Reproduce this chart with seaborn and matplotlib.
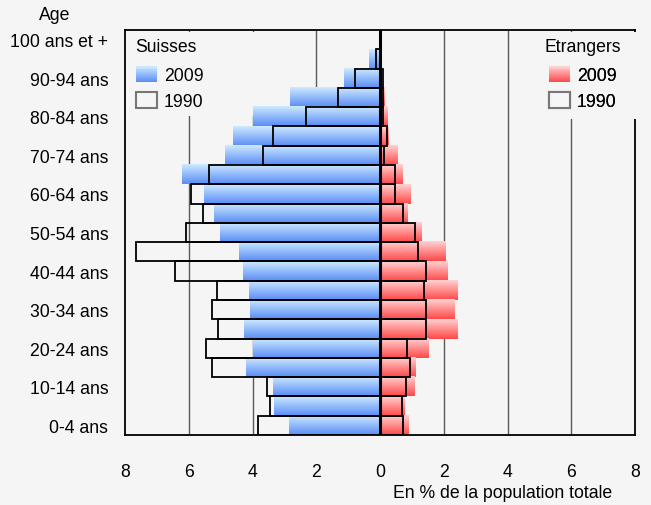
import numpy as np
import matplotlib
matplotlib.use("Agg")
import matplotlib.pyplot as plt
from matplotlib.colors import LinearSegmentedColormap
from matplotlib.patches import Patch, Rectangle
from matplotlib.legend_handler import HandlerBase
import seaborn as sns

# age groups, top of the pyramid first
ages = ["100 ans et +", "95-99 ans", "90-94 ans", "85-89 ans", "80-84 ans",
        "75-79 ans", "70-74 ans", "65-69 ans", "60-64 ans", "55-59 ans",
        "50-54 ans", "45-49 ans", "40-44 ans", "35-39 ans", "30-34 ans",
        "25-29 ans", "20-24 ans", "15-19 ans", "10-14 ans", "5-9 ans", "0-4 ans"]

# en % de la population totale
suisses_2009 = [0.02, 0.34, 1.13, 2.82, 4.0, 4.61, 4.86, 6.21, 5.52, 5.21, 5.02,
                4.42, 4.30, 4.11, 4.08, 4.27, 3.97, 4.20, 3.36, 3.33, 2.85]
suisses_1990 = [0.01, 0.13, 0.78, 1.33, 2.33, 3.35, 3.67, 5.36, 5.92, 5.56, 6.08,
                7.65, 6.43, 5.12, 5.28, 5.09, 5.45, 5.28, 3.53, 3.46, 3.83]
etrangers_2009 = [0.01, 0.03, 0.06, 0.14, 0.25, 0.28, 0.56, 0.72, 0.97, 0.85, 1.29,
                  2.04, 2.13, 2.42, 2.35, 2.42, 1.51, 1.10, 1.07, 0.78, 0.88]
etrangers_1990 = [0.0, 0.02, 0.08, 0.10, 0.08, 0.21, 0.14, 0.48, 0.48, 0.72, 1.11,
                  1.20, 1.43, 1.39, 1.45, 1.45, 0.84, 0.94, 0.80, 0.69, 0.73]

xticks = [-8, -6, -4, -2, 0, 2, 4, 6, 8]
xticklabels = ["8", "6", "4", "2", "0", "2", "4", "6", "8"]
ytick_shown = ages[::2]

BG = "#f5f5f5"
blue_cmap = LinearSegmentedColormap.from_list("blue", ["#cdeaff", "#5a8df6"])
red_cmap = LinearSegmentedColormap.from_list("red", ["#ffd2d2", "#ff4848"])

sns.set_style("white")
plt.rcParams["font.family"] = ["Liberation Sans", "DejaVu Sans"]
for k in ["text.color", "axes.labelcolor", "xtick.color", "ytick.color"]:
    plt.rcParams[k] = "black"
FS = 12.7

fig = plt.figure(figsize=(6.51, 5.06), dpi=100, facecolor=BG)
ax = fig.add_axes([125 / 651, 1 - 436 / 506, 510 / 651, 405 / 506])
ax.set_facecolor(BG)


def draw(vals, sign):
    n0 = len(ax.patches)
    sns.barplot(x=[sign * v for v in vals], y=ages, order=ages, orient="h",
                width=1.0, errorbar=None, color="grey", ax=ax)
    return ax.patches[n0:]


def gradient_fill(patches, cmap):
    grad = np.linspace(0, 1, 64).reshape(-1, 1)
    for p in patches:
        x0, w = p.get_x(), p.get_width()
        y0, h = p.get_y(), p.get_height()
        ax.imshow(grad, extent=[x0, x0 + w, y0 + h, y0], aspect="auto",
                  cmap=cmap, interpolation="bilinear", zorder=1.2)
        p.set_visible(False)


def outline(patches):
    for p in patches:
        p.set_facecolor("none")
        p.set_edgecolor("black")
        p.set_linewidth(1.3)
        p.set_zorder(2)


gradient_fill(draw(suisses_2009, -1), blue_cmap)
gradient_fill(draw(etrangers_2009, 1), red_cmap)
outline(draw(suisses_1990, -1))
outline(draw(etrangers_1990, 1))

for v in [-6, -4, -2, 2, 4, 6]:
    ax.axvline(v, color="#5a5a5a", lw=1.0, zorder=0.5)
ax.axvline(0, color="black", lw=2.2, zorder=3)

# the legend areas hide the grid
ax.add_patch(Rectangle((128 / 651, 1 - 117 / 506), 162 / 651, 84 / 506,
                       transform=fig.transFigure, facecolor=BG, edgecolor="none",
                       zorder=0.8, clip_on=False))
ax.add_patch(Rectangle((525 / 651, 1 - 120 / 506), 126 / 651, 87 / 506,
                       transform=fig.transFigure, facecolor=BG, edgecolor="none",
                       zorder=2.7, clip_on=False))

ax.set_xlim(-8, 8)
ax.set_ylim(20.5, -0.5)
ax.set_xticks(xticks)
ax.set_xticklabels(xticklabels, fontsize=FS)
ax.set_yticks(range(len(ages)))
ax.set_yticklabels([a if a in ytick_shown else "" for a in ages], fontsize=FS)
ax.tick_params(axis="x", direction="out", length=5, width=1, color="black", pad=15)
ax.tick_params(axis="y", length=0, pad=12)
ax.set_xlabel("")
ax.set_ylabel("")
for s in ax.spines.values():
    s.set_color("black")
    s.set_linewidth(1.3)
    s.set_visible(True)


class GradientHandler(HandlerBase):
    def __init__(self, cmap):
        super().__init__()
        self.cmap = cmap

    def create_artists(self, legend, orig_handle, xdescent, ydescent, width,
                       height, fontsize, trans):
        n = 16
        arts = []
        for i in range(n):
            r = Rectangle((-xdescent, -ydescent + height * i / n), width,
                          height / n * 1.1, facecolor=self.cmap(1 - (i + 0.5) / n),
                          edgecolor="none", transform=trans)
            arts.append(r)
        return arts


def make_legend(title, cmap, xpix, title_x):
    h09 = Patch(facecolor="white")
    h90 = Patch(facecolor=BG, edgecolor="#777777", linewidth=1.5)
    leg = ax.legend(handles=[h09, h90], labels=["2009", "1990"],
                    loc="upper left", bbox_to_anchor=(xpix / 651, 1 - 64 / 506),
                    bbox_transform=fig.transFigure, frameon=False,
                    handler_map={h09: GradientHandler(cmap)},
                    fontsize=FS, borderaxespad=0, borderpad=0.2,
                    handlelength=1.2, handleheight=1.0, handletextpad=0.4,
                    labelspacing=0.42)
    leg.set_zorder(5)
    fig.text(title_x / 651, 1 - 48 / 506, title, fontsize=FS, ha="left", va="center")
    return leg


ax.add_artist(make_legend("Suisses", blue_cmap, 132, 135))
ax.add_artist(make_legend("Etrangers", red_cmap, 545, 545))

fig.text(55 / 651, 1 - 15 / 506, "Age", fontsize=FS, ha="center", va="center")
fig.text(503 / 651, 1 - 494 / 506, "En % de la population totale", fontsize=FS,
         ha="center", va="center")

fig.savefig("out.png", dpi=100, facecolor=BG)
